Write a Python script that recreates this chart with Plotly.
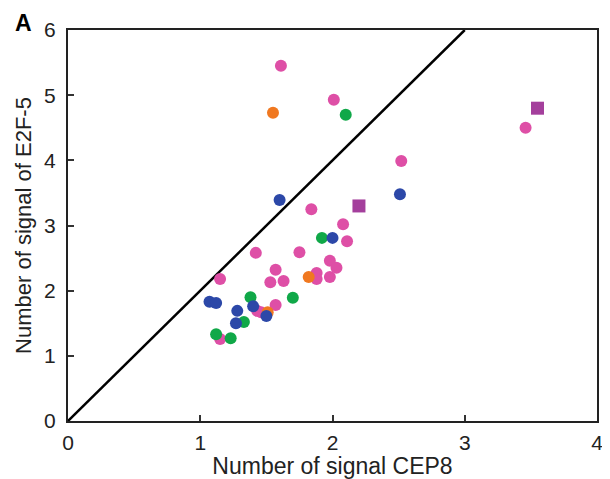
import plotly.graph_objects as go

# CEP8 (x) / E2F-5 (y) signal counts per group
pink_x = [1.61, 2.01, 3.46, 2.52, 1.84, 2.08, 2.11, 1.42, 1.75, 1.15, 1.57, 1.53, 1.63, 1.98, 2.03, 1.88, 1.88, 1.98, 1.57, 1.43, 1.46, 1.15]
pink_y = [5.45, 4.93, 4.50, 3.99, 3.25, 3.02, 2.76, 2.58, 2.59, 2.18, 2.32, 2.13, 2.15, 2.46, 2.35, 2.27, 2.18, 2.21, 1.78, 1.69, 1.67, 1.26]
orange_x = [1.55, 1.82, 1.51]
orange_y = [4.73, 2.21, 1.67]
green_x = [2.10, 1.92, 1.38, 1.70, 1.33, 1.12, 1.23]
green_y = [4.70, 2.81, 1.90, 1.89, 1.52, 1.33, 1.27]
blue_x = [1.60, 2.51, 2.00, 1.07, 1.12, 1.40, 1.28, 1.27, 1.50]
blue_y = [3.39, 3.48, 2.81, 1.83, 1.81, 1.76, 1.69, 1.50, 1.61]
square_x = [2.20, 3.55]
square_y = [3.30, 4.80]
line_x = [0, 3]
line_y = [0, 6]

x_ticks = [0, 1, 2, 3, 4]
y_ticks = [0, 1, 2, 3, 4, 5, 6]

fig = go.Figure()
fig.add_trace(go.Scatter(x=line_x, y=line_y, mode="lines",
                         line=dict(color="black", width=2.5), showlegend=False))

def add(xs, ys, color, symbol="circle", size=12):
    fig.add_trace(go.Scatter(x=xs, y=ys, mode="markers", showlegend=False,
                             marker=dict(color=color, size=size, symbol=symbol,
                                         line=dict(width=0))))

add(pink_x, pink_y, "#de4fa6")
add(orange_x, orange_y, "#f07820")
add(green_x, green_y, "#10a848")
add(blue_x, blue_y, "#2c48a8")
add(square_x, square_y, "#a43f9c", symbol="square", size=13)

FAM = "Liberation Sans, Arial, sans-serif"
font = dict(family=FAM, size=21, color="#222222")
xtitle_font = dict(family=FAM, size=23, color="#222222")
ytitle_font = dict(family=FAM, size=22, color="#222222")

# page has an 8px body margin, so the figure is sized to fit inside the window
W, H = 602, 471
L, R, T, B = 60, 13, 22, 58

fig.update_layout(
    width=W, height=H,
    margin=dict(l=L, r=R, t=T, b=B, autoexpand=False),
    paper_bgcolor="white", plot_bgcolor="white",
    font=font,
    xaxis=dict(range=[0, 4], tickvals=x_ticks, ticks="inside", ticklen=6, tickwidth=2,
               tickcolor="#333", showgrid=False, zeroline=False, automargin=False,
               ticklabelstandoff=2, tickfont=font,
               showline=True, linecolor="#222", linewidth=2, mirror=True,
               title=dict(text="Number of signal CEP8", standoff=2, font=xtitle_font)),
    yaxis=dict(range=[0, 6], tickvals=y_ticks, ticks="inside", ticklen=6, tickwidth=2,
               tickcolor="#333", showgrid=False, zeroline=False, automargin=False,
               ticklabelstandoff=6, tickfont=font,
               showline=True, linecolor="#222", linewidth=2, mirror=True,
               title=dict(text="Number of signal of E2F-5", standoff=6, font=ytitle_font)),
)
pw, ph = W - L - R, H - T - B
fig.add_annotation(text="<b>A</b>", xref="paper", yref="paper",
                   x=(5 - L) / pw, y=(H - B - 0) / ph,
                   showarrow=False, xanchor="left", yanchor="top",
                   font=dict(family=FAM, size=23, color="black"))

fig.write_html("out.html")
